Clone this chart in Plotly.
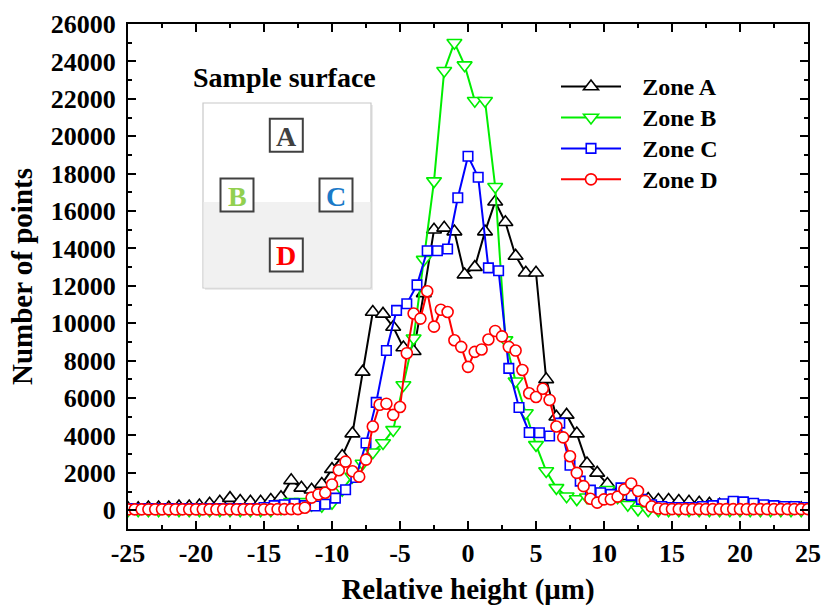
import plotly.graph_objects as go

# ---- histogram data: number of points per height bin (µm) for each zone ----
zone_a_start, zone_a_step = -25.0, 0.75
zone_a = [100, 100, 150, 150, 150, 200, 200, 250, 350, 450,
          650, 500, 450, 450, 550, 700, 1600, 1200, 1100, 1400,
          2200, 2900, 4100, 7400, 10600, 10500, 9800, 8700, 8500, 11600,
          15000, 15100, 14900, 12600, 13000, 14900, 16500, 15400, 13600, 12700,
          12700, 7000, 5000, 5100, 4100, 2500, 2000, 1400, 950, 750,
          650, 600, 550, 550, 500, 450, 400, 350, 300, 250,
          200, 150, 150, 100, 100, 100, 100]

zone_b_start, zone_b_step = -25.0, 0.75
zone_b = [0, 0, 0, 0, 0, 0, 0, 0, 0, 0,
          0, 0, 0, 0, 0, 100, 450, 450, 300, 250,
          400, 1100, 1800, 2500, 3100, 3600, 4300, 6700, 9200, 13400,
          17600, 23500, 25000, 23800, 21900, 21900, 17300, 9100, 6900, 5200,
          3500, 2100, 1200, 750, 600, 700, 1000, 1100, 700, 300,
          50, 0, 0, 0, 0, 0, 0, 0, 0, 0,
          0, 0, 0, 0, 0, 0, 0]

zone_c_start, zone_c_step = -24.75, 0.75
zone_c = [100, 100, 100, 100, 100, 100, 100, 100, 100, 100,
          100, 100, 100, 150, 250, 300, 350, 250, 230, 320,
          650, 1100, 1750, 3600, 5770, 8540, 10690, 11040, 12050, 13880,
          13880, 13970, 16710, 18930, 17810, 12960, 12810, 7590, 5500, 4160,
          4150, 3970, 4660, 2410, 1560, 1080, 940, 850, 1200, 800,
          585, 300, 200, 150, 150, 150, 200, 250, 350, 480,
          450, 380, 300, 250, 200, 200, 150]

zone_d_start, zone_d_step = -25.0, 0.5
zone_d = [50, 50, 50, 50, 50, 50, 50, 50, 50, 50,
          50, 50, 50, 50, 50, 50, 50, 50, 50, 50,
          50, 50, 60, 60, 60, 60, 140, 680, 850, 940,
          1380, 2140, 2600, 2090, 1800, 2710, 4480, 5640, 5700, 5100,
          5520, 8400, 10520, 10250, 11710, 9820, 10720, 10600, 9090, 8740,
          7670, 8470, 8600, 9130, 9590, 9300, 8740, 8540, 7500, 6260,
          6060, 6500, 5900, 4480, 3900, 2890, 2000, 1290, 620, 410,
          585, 585, 730, 1120, 1435, 1030, 500, 200, 100, 60,
          60, 60, 60, 60, 60, 60, 60, 60, 60, 60,
          60, 60, 60, 60, 60, 60, 60, 60, 60, 60,
          60]

zone_names = ["Zone A", "Zone B", "Zone C", "Zone D"]
x_ticks = [-25, -20, -15, -10, -5, 0, 5, 10, 15, 20, 25]
y_ticks = list(range(0, 26001, 2000))


def bin_centers(start, step, n):
    return [start + step * i for i in range(n)]


W, H = 822, 606
ML, MR, MT, MB = 128, 14, 24, 77
PW, PH = W - ML - MR, H - MT - MB
FONT = "Liberation Serif"


def px(xp):
    return (xp - ML) / PW


def py(yp):
    return 1 - (yp - MT) / PH


fig = go.Figure()

series = [
    (zone_a_start, zone_a_step, zone_a, "#000000", "triangle-up", 13),
    (zone_b_start, zone_b_step, zone_b, "#00ee00", "triangle-down", 13),
    (zone_c_start, zone_c_step, zone_c, "#0000ff", "square", 9.5),
    (zone_d_start, zone_d_step, zone_d, "#ff0000", "circle", 11),
]
for name, (start, step, vals, color, symbol, size) in zip(zone_names, series):
    fig.add_trace(go.Scatter(
        x=bin_centers(start, step, len(vals)), y=vals,
        mode="lines+markers",
        name='\u00a0\u00a0\u00a0<span style="font-size:24px">' + name + "</span>",
        line=dict(color=color, width=2),
        marker=dict(symbol=symbol, size=size, color="white",
                    line=dict(color=color, width=1.6)),
    ))

axis_common = dict(
    showline=True, linecolor="black", linewidth=2, mirror="allticks",
    ticks="inside", ticklen=8, tickwidth=1.5, tickcolor="black",
    showgrid=False, zeroline=False, automargin=False,
    ticklabeloverflow="allow",
    tickfont=dict(family=FONT, size=26, color="black", weight="bold"),
)

fig.update_xaxes(
    range=[-25, 25], tickvals=x_ticks, ticktext=[str(v) for v in x_ticks],
    minor=dict(ticks="inside", ticklen=4, tickwidth=1.5, dtick=2.5,
               tickcolor="black"),
    title=dict(text="Relative height (μm)", standoff=19,
               font=dict(family=FONT, size=29, color="black", weight="bold")),
    **axis_common,
)
fig.update_yaxes(
    range=[-1000, 26000], tickvals=y_ticks, ticktext=[str(v) for v in y_ticks],
    minor=dict(ticks="inside", ticklen=4, tickwidth=1.5, dtick=1000,
               tickcolor="black"),
    ticklabelstandoff=5,
    title=dict(text="Number of points", standoff=10,
               font=dict(family=FONT, size=29, color="black", weight="bold")),
    **axis_common,
)

# ---- inset: sketch of the sample surface with the four zones ----
shapes = []
annotations = []
# soft drop shadow
shapes.append(dict(type="rect", xref="paper", yref="paper",
                   x0=px(205), x1=px(373), y0=py(290), y1=py(105),
                   line=dict(width=0), fillcolor="rgba(0,0,0,0.08)"))
shapes.append(dict(type="rect", xref="paper", yref="paper",
                   x0=px(203), x1=px(371), y0=py(288), y1=py(103),
                   line=dict(color="#c8c8c8", width=1.2), fillcolor="white"))
shapes.append(dict(type="rect", xref="paper", yref="paper",
                   x0=px(203.6), x1=px(370.4), y0=py(287.4), y1=py(202),
                   line=dict(width=0), fillcolor="#f1f1f1"))

boxes = [("A", 286.3, 135.3, "#404040"),
         ("B", 237.0, 195.0, "#92d050"),
         ("C", 336.0, 195.0, "#1a7ac8"),
         ("D", 286.3, 255.0, "#ff0000")]
for letter, cx, cy, col in boxes:
    shapes.append(dict(type="rect", xref="paper", yref="paper",
                       x0=px(cx - 16.5), x1=px(cx + 16.5),
                       y0=py(cy + 16.5), y1=py(cy - 16.5),
                       line=dict(color="#404040", width=2), fillcolor="white"))
    annotations.append(dict(text=letter, xref="paper", yref="paper",
                            x=px(cx), y=py(cy + 1), showarrow=False,
                            xanchor="center", yanchor="middle",
                            font=dict(family=FONT, size=28, color=col,
                                      weight="bold")))

annotations.append(dict(text="Sample surface", xref="paper", yref="paper",
                        x=px(284), y=py(77), showarrow=False,
                        xanchor="center", yanchor="middle",
                        font=dict(family=FONT, size=28, color="black",
                                  weight="bold")))

fig.update_layout(
    width=W, height=H,
    margin=dict(l=ML, r=MR, t=MT, b=MB),
    paper_bgcolor="white", plot_bgcolor="white",
    shapes=shapes, annotations=annotations,
    legend=dict(x=px(556), y=py(66), xanchor="left", yanchor="top",
                bgcolor="rgba(0,0,0,0)", borderwidth=0, itemwidth=60,
                tracegroupgap=0,
                font=dict(family=FONT, size=21.5, color="black", weight="bold")),
    showlegend=True,
)

fig.write_html("out.html")
